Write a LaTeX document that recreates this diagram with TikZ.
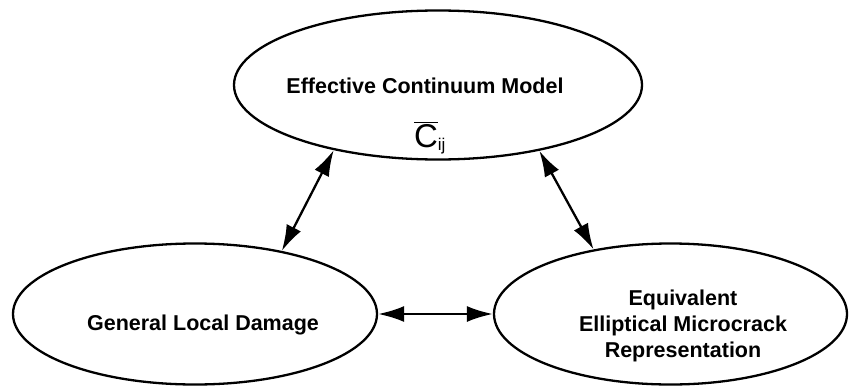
\documentclass[tikz,border=0pt]{standalone}
\usepackage{fontspec}
\setmainfont{Liberation Sans}
\usetikzlibrary{shapes.geometric,arrows.meta}
\begin{document}
\begin{tikzpicture}[x=1pt,y=-1pt,
  blob/.style={draw,ellipse,line width=2.3pt,inner sep=0pt},
  lbl/.style={font=\fontsize{21.5}{26}\selectfont\bfseries,inner sep=0pt,align=center},
  link/.style={line width=2.3pt,{Latex[length=26pt,width=16pt]}-{Latex[length=26pt,width=16pt]}}]
\useasboundingbox (0,0) rectangle (850,388);
\node[blob,minimum width=408pt,minimum height=149pt] (ecm) at (438,85) {};
\node[blob,minimum width=364pt,minimum height=141pt] (gld) at (195,314) {};
\node[blob,minimum width=353pt,minimum height=141pt] (eem) at (670.5,314) {};
\node[lbl,anchor=base] (t1) at (425,93) {Effective Continuum Model};
\node[inner sep=0pt,anchor=base] (t2) at (430,147) {\fontsize{33}{33}\selectfont$\overline{\hbox{C}}_{\hbox{\fontsize{17}{17}\selectfont ij}}$};
\node[lbl,anchor=base] (t3) at (203,330) {General Local Damage};
\node[lbl] (t4) at (683,326) {Equivalent\\Elliptical Microcrack\\Representation};
\draw[link] (ecm.212.8) -- (gld.36.5);
\draw[link] (ecm.-33.3) -- (eem.140.5);
\draw[link] (gld.east) -- (eem.west);
\end{tikzpicture}
\end{document}
